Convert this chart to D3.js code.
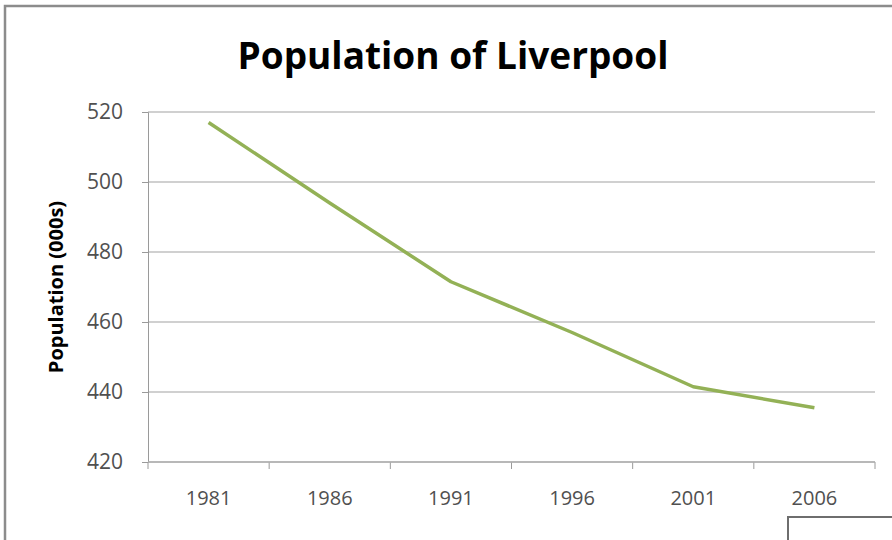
<!DOCTYPE html>
<html lang="en">
	<head>
		<meta charset="utf-8">
		<title>Population of Liverpool</title>
		<script src="https://d3js.org/d3.v7.min.js"></script>
		<style type="text/css">
			body { margin: 0; background: #fff; }
			text { font-family: "Open Sans", sans-serif; }
		</style>
	</head>

	<body>
		<script type="text/javascript">
			// window setup
			var w = 892
			var h = 540
			var margin = { top: 112, right: 17, bottom: 78, left: 148 }

			// data
			var years = ["1981", "1986", "1991", "1996", "2001", "2006"]
			var population = [517, 494, 471.5, 457, 441.5, 435.5]
			var yTicks = [420, 440, 460, 480, 500, 520]

			var svg = d3.select("body")
						.append("svg")
						.attr("width", w)
						.attr("height", h)

			// chart frame
			svg.append("rect")
				.attr("x", 5).attr("y", 6)
				.attr("width", w + 10).attr("height", h + 10)
				.style("fill", "#fff")
				.style("stroke", "#8c8c8c")
				.style("stroke-width", 2.5)

			var x = d3.scaleBand()
						.domain(years)
						.range([margin.left, w - margin.right])

			var y = d3.scaleLinear()
						.domain([420, 520])
						.range([h - margin.bottom, margin.top])

			// gridlines
			svg.append("g")
				.selectAll("line")
				.data(yTicks)
				.enter()
				.append("line")
				.attr("x1", margin.left)
				.attr("x2", w - margin.right)
				.attr("y1", function(d) { return y(d) })
				.attr("y2", function(d) { return y(d) })
				.style("stroke", "#c0c0c0")
				.style("stroke-width", 1.5)

			// y axis
			var yAxis = svg.append("g")
				.attr("transform", "translate(" + margin.left + ",0)")
				.call(d3.axisLeft(y).tickValues(yTicks).tickSize(6).tickPadding(19))
			yAxis.select(".domain").style("stroke", "#9a9a9a")
			yAxis.selectAll(".tick line").style("stroke", "#9a9a9a")
			yAxis.selectAll("text")
				.style("font-size", "21px")
				.style("fill", "#505050")

			// x axis, ticks between categories
			var xAxis = svg.append("g")
				.attr("transform", "translate(0," + (h - margin.bottom) + ")")
				.call(d3.axisBottom(x).tickSize(0).tickPadding(29))
			xAxis.select(".domain").remove()
			xAxis.selectAll("text")
				.style("font-size", "20px")
				.style("fill", "#505050")

			svg.append("g")
				.selectAll("line")
				.data(years.concat(["end"]))
				.enter()
				.append("line")
				.attr("x1", function(d, i) { return margin.left + i * x.bandwidth() })
				.attr("x2", function(d, i) { return margin.left + i * x.bandwidth() })
				.attr("y1", h - margin.bottom)
				.attr("y2", h - margin.bottom + 7)
				.style("stroke", "#9a9a9a")
				.style("stroke-width", 1)

			svg.append("line")
				.attr("x1", margin.left).attr("x2", w - margin.right)
				.attr("y1", h - margin.bottom).attr("y2", h - margin.bottom)
				.style("stroke", "#b0b0b0")
				.style("stroke-width", 1.5)

			// population line
			var line = d3.line()
						.x(function(d, i) { return x(years[i]) + x.bandwidth() / 2 })
						.y(function(d) { return y(d) })

			svg.append("path")
				.datum(population)
				.attr("d", line)
				.style("fill", "none")
				.style("stroke", "#93b156")
				.style("stroke-width", 3.5)
				.style("stroke-linejoin", "round")

			// title
			svg.append("text")
				.attr("x", 453)
				.attr("y", 69)
				.attr("text-anchor", "middle")
				.style("font-size", "37px")
				.style("font-weight", "bold")
				.style("fill", "#000")
				.text("Population of Liverpool")

			// y axis title
			svg.append("text")
				.attr("transform", "translate(63," + ((y(420) + y(520)) / 2) + ") rotate(-90)")
				.attr("text-anchor", "middle")
				.style("font-size", "20px")
				.style("font-weight", "bold")
				.style("fill", "#000")
				.text("Population (000s)")

			// stray box at bottom right
			svg.append("rect")
				.attr("x", 788).attr("y", 517)
				.attr("width", 120).attr("height", 40)
				.style("fill", "#fff")
				.style("stroke", "#6e6e6e")
				.style("stroke-width", 2)
		</script>
	</body>
</html>
